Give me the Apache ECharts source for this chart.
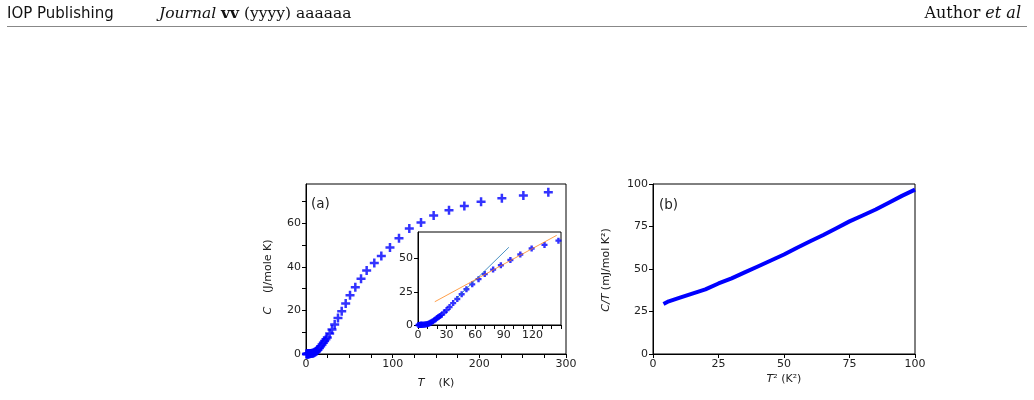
<!DOCTYPE html>
<html>
<head>
<meta charset="utf-8">
<script src="https://cdn.jsdelivr.net/npm/echarts@6/dist/echarts.min.js"></script>
<style>
  html, body { margin: 0; padding: 0; background: #fff; }
  #main { width: 1034px; height: 400px; }
</style>
</head>
<body>
<div id="main"></div>
<script>
// (a) heat capacity C (J/mole K) against T (K)
var tempK = [0.5, 1, 1.5, 2, 2.5, 3, 3.5, 4, 5, 6, 7, 8, 9, 10, 11, 12, 13, 14, 15.5, 17, 18.5, 20,
    21.5, 23, 24.6, 27.3, 30, 33.1, 36.9, 41.2, 45.8, 50.8, 56.9, 63.5, 70, 78.8, 86.9, 96.9,
    107.3, 119.2, 132.7, 147.3, 165, 182.7, 202, 226, 250.8, 279.6];
var heatC = [0, 0, 0, 0, 0.1, 0.1, 0.1, 0.1, 0.2, 0.2, 0.3, 0.4, 0.6, 0.8, 1.0, 1.3, 1.7, 2.1, 2.8, 3.6, 4.4, 5.2,
    6.0, 6.8, 7.6, 9.4, 11.2, 13.5, 16.5, 19.6, 23.2, 26.9, 30.6, 34.5, 38.3, 41.7, 45, 48.9,
    53.1, 57.6, 60.3, 63.5, 66, 67.9, 69.9, 71.5, 72.7, 74.2];

// inset: two straight fits
var fitSteepT = [40, 95.3];
var fitSteepC = [19.7, 58.5];
var fitFlatT = [17.6, 145.5];
var fitFlatC = [17.5, 67.5];

// (b) C/T (mJ/mol K^2) against T^2 (K^2)
var tSquared = [4, 6, 10, 15, 20, 25, 30, 35, 40, 45, 50, 55, 60, 65, 70, 75, 80, 85, 90, 95, 100];
var cOverT = [29.4, 31, 33, 35.5, 38, 41.5, 44.5, 48, 51.5, 55, 58.5, 62.5, 66.3, 70, 74, 78, 81.5, 85, 89, 93, 96.7];

// ticks and labels
var aXTicks = [0, 25, 50, 75, 100, 125, 150, 175, 200, 225, 250, 275, 300];
var aXLabels = [0, 100, 200, 300];
var aYTicks = [0, 10, 20, 30, 40, 50, 60, 70];
var aYLabels = [0, 20, 40, 60];
var insetXTicks = [0, 10, 20, 30, 40, 50, 60, 70, 80, 90, 100, 110, 120, 130, 140, 150];
var insetXLabels = [0, 30, 60, 90, 120];
var insetYLabels = [0, 25, 50];
var bLabels = [0, 25, 50, 75, 100];

function pairs(xs, ys) {
    var out = [];
    for (var i = 0; i < xs.length; i++) out.push([xs[i], ys[i]]);
    return out;
}
var capData = pairs(tempK, heatC);
var insetData = capData.filter(function (p) { return p[0] <= 150; });

var plusMark = 'path://M3.25,0H5.75V3.25H9V5.75H5.75V9H3.25V5.75H0V3.25H3.25Z';
var dotMark = 'path://M3,0H7V3H10V7H7V10H3V7H0V3H3Z';
var FONT = 'DejaVu Sans';
var INK = '#222';

function valueAxis(grid, min, max, ticks, labels, extra) {
    var ax = {
        type: 'value',
        gridIndex: grid,
        min: min,
        max: max,
        splitLine: { show: false },
        axisLine: { show: true, onZero: false, lineStyle: { color: '#000', width: 1 } },
        axisTick: { show: true, length: 4, customValues: ticks, lineStyle: { color: '#000', width: 1 } },
        axisLabel: { customValues: labels, color: INK, fontFamily: FONT, fontSize: 11, margin: 5 }
    };
    for (var k in extra) ax[k] = extra[k];
    return ax;
}

var myChart = echarts.init(document.getElementById('main'), null, { renderer: 'canvas' });

option = {
    backgroundColor: '#fff',
    animation: false,
    grid: [
        { left: 306, top: 184, width: 260, height: 170, show: true, borderColor: '#000', borderWidth: 1, backgroundColor: '#fff' },
        { left: 418, top: 232, width: 143, height: 93, show: true, borderColor: '#000', borderWidth: 1, backgroundColor: '#fff', z: 5 },
        { left: 653, top: 184, width: 262, height: 170, show: true, borderColor: '#000', borderWidth: 1, backgroundColor: '#fff' }
    ],
    xAxis: [
        valueAxis(0, 0, 300, aXTicks, aXLabels, {
            name: '{i|T}    (K)',
            nameLocation: 'middle',
            nameGap: 24,
            nameTextStyle: { color: INK, fontFamily: FONT, fontSize: 11,
                rich: { i: { fontStyle: 'italic', fontFamily: FONT, fontSize: 11, color: INK } } }
        }),
        valueAxis(1, 0, 150, insetXTicks, insetXLabels, { z: 6 }),
        valueAxis(2, 0, 100, bLabels, bLabels, {
            name: '{i|T}² (K²)',
            nameLocation: 'middle',
            nameGap: 20,
            nameTextStyle: { color: INK, fontFamily: FONT, fontSize: 11,
                rich: { i: { fontStyle: 'italic', fontFamily: FONT, fontSize: 11, color: INK } } }
        })
    ],
    yAxis: [
        valueAxis(0, 0, 78, aYTicks, aYLabels, {}),
        valueAxis(1, 0, 70, insetYLabels, insetYLabels, { z: 6 }),
        valueAxis(2, 0, 100, bLabels, bLabels, {})
    ],
    graphic: [
        { type: 'text', left: 7, top: 7, style: { text: 'IOP Publishing', font: '15px "DejaVu Sans"', fill: '#111' } },
        { type: 'text', left: 159, top: 6, style: {
            text: '{it|Journal} {b|vv} (yyyy) aaaaaa',
            font: '15.5px "DejaVu Serif"', fill: '#111',
            rich: {
                it: { fontStyle: 'italic', fontFamily: 'DejaVu Serif', fontSize: 15.5, fill: '#111' },
                b: { fontWeight: 'bold', fontFamily: 'DejaVu Serif', fontSize: 15.5, fill: '#111' }
            }
        } },
        { type: 'text', right: 13, top: 6, style: {
            text: 'Author {it|et al}',
            font: '16px "DejaVu Serif"', fill: '#111',
            rich: { it: { fontStyle: 'italic', fontFamily: 'DejaVu Serif', fontSize: 16, fill: '#111' } }
        } },
        { type: 'line', shape: { x1: 7, y1: 26.5, x2: 1027, y2: 26.5 }, style: { stroke: '#888', lineWidth: 1 } },
        { type: 'text', x: 311, y: 204, z: 10, style: { text: '(a)', font: '13.5px "DejaVu Sans"', fill: INK, verticalAlign: 'middle' } },
        { type: 'text', x: 659, y: 205, z: 10, style: { text: '(b)', font: '13.5px "DejaVu Sans"', fill: INK, verticalAlign: 'middle' } },
        { type: 'text', x: 268, y: 277, rotation: Math.PI / 2, style: {
            text: '{i|C}    (J/mole K)', font: '11px "DejaVu Sans"', fill: INK, align: 'center', verticalAlign: 'middle',
            rich: { i: { fontStyle: 'italic', fontFamily: FONT, fontSize: 11, fill: INK } }
        } },
        { type: 'text', x: 606, y: 270, rotation: Math.PI / 2, style: {
            text: '{i|C/T} (mJ/mol K²)', font: '11px "DejaVu Sans"', fill: INK, align: 'center', verticalAlign: 'middle',
            rich: { i: { fontStyle: 'italic', fontFamily: FONT, fontSize: 11, fill: INK } }
        } }
    ],
    series: [
        {
            name: 'C',
            type: 'scatter',
            xAxisIndex: 0,
            yAxisIndex: 0,
            symbol: plusMark,
            symbolSize: 9,
            itemStyle: { color: '#0000ff' },
            data: capData
        },
        {
            name: 'C inset',
            type: 'scatter',
            xAxisIndex: 1,
            yAxisIndex: 1,
            z: 6,
            symbol: dotMark,
            symbolSize: 6,
            itemStyle: { color: '#0000ff' },
            data: insetData
        },
        {
            name: 'fit low',
            type: 'line',
            xAxisIndex: 1,
            yAxisIndex: 1,
            z: 7,
            showSymbol: false,
            lineStyle: { color: '#1f77b4', width: 1, opacity: 0.8 },
            data: pairs(fitSteepT, fitSteepC)
        },
        {
            name: 'fit high',
            type: 'line',
            xAxisIndex: 1,
            yAxisIndex: 1,
            z: 7,
            showSymbol: false,
            lineStyle: { color: '#ff7f0e', width: 1, opacity: 0.75 },
            data: pairs(fitFlatT, fitFlatC)
        },
        {
            name: 'C/T',
            type: 'line',
            xAxisIndex: 2,
            yAxisIndex: 2,
            showSymbol: false,
            lineStyle: { color: '#0000ff', width: 4 },
            data: pairs(tSquared, cOverT)
        }
    ]
};
myChart.setOption(option);
</script>
</body>
</html>
